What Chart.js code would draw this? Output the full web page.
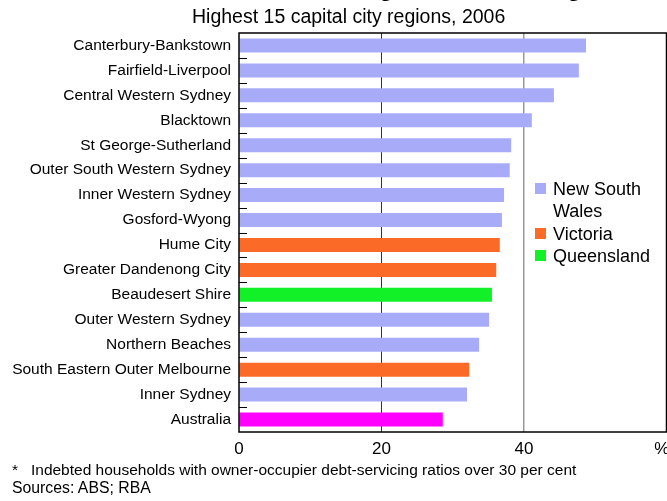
<!DOCTYPE html>
<html>
<head>
<meta charset="utf-8">
<script src="https://cdn.jsdelivr.net/npm/chart.js@4/dist/chart.umd.min.js"></script>
<style>
  html, body { margin: 0; padding: 0; background: #fff; overflow: hidden; }
  body { width: 667px; height: 501px; position: relative; font-family: "Liberation Sans", Arial, sans-serif; color: #000; }
  #wrap { position: absolute; left: 0; top: 0; width: 700px; height: 501px; }
  .txt { position: absolute; white-space: nowrap; color: #000; }
  #title { font-weight: bold; font-size: 24px; line-height: 24px; right: 76px; top: -24px; }
  #subtitle { font-size: 19.5px; line-height: 20px; left: 192px; top: 6px; }
  #foot1 { font-size: 15.5px; line-height: 18px; left: 12px; top: 461px; }
  #foot2 { font-size: 15.8px; line-height: 18px; left: 12px; top: 479px; }
  #legend { position: absolute; left: 535px; top: 178px; font-size: 18px; line-height: 22.3px; }
  .li { position: relative; padding-left: 18px; }
  .sw { position: absolute; left: 0; top: 5px; width: 11px; height: 11px; }
</style>
</head>
<body>
<div id="wrap"><canvas id="c" width="700" height="501"></canvas></div>
<div class="txt" id="title">Households with High Debt-servicing*</div>
<div class="txt" id="subtitle">Highest 15 capital city regions, 2006</div>
<div id="legend"></div>
<div class="txt" id="foot1">*&nbsp;&nbsp;&nbsp;Indebted households with owner-occupier debt-servicing ratios over 30 per cent</div>
<div class="txt" id="foot2">Sources: ABS; RBA</div>
<script>
const categories = [
  "Canterbury-Bankstown", "Fairfield-Liverpool", "Central Western Sydney", "Blacktown",
  "St George-Sutherland", "Outer South Western Sydney", "Inner Western Sydney", "Gosford-Wyong",
  "Hume City", "Greater Dandenong City", "Beaudesert Shire", "Outer Western Sydney",
  "Northern Beaches", "South Eastern Outer Melbourne", "Inner Sydney", "Australia"
];
const values = [48.7, 47.7, 44.2, 41.1, 38.2, 38.0, 37.2, 36.9, 36.6, 36.1, 35.5, 35.1, 33.7, 32.3, 32.0, 28.6];
const groups = ["NSW","NSW","NSW","NSW","NSW","NSW","NSW","NSW","VIC","VIC","QLD","NSW","NSW","VIC","NSW","AUS"];
const groupNames = { NSW: "New South<br>Wales", VIC: "Victoria", QLD: "Queensland" };
const legendGroups = ["NSW", "VIC", "QLD"];
const groupColors = { NSW: "#a8acf8", VIC: "#fc6a28", QLD: "#12f028", AUS: "#ff00ff" };
const xTicks = [0, 20, 40, 60];
const xTickLabels = ["0", "20", "40", "%  "];

const leg = document.getElementById('legend');
legendGroups.forEach(g => {
  const d = document.createElement('div');
  d.className = 'li';
  d.innerHTML = '<span class="sw" style="background:' + groupColors[g] + '"></span>' + groupNames[g];
  leg.appendChild(d);
});

const frame = {
  id: 'frame',
  afterDatasetsDraw(chart) {
    const { ctx, chartArea: a, scales: { y } } = chart;
    ctx.save();
    ctx.strokeStyle = '#000';
    ctx.lineWidth = 1;
    ctx.beginPath();
    for (let i = 1; i < categories.length; i++) {
      const py = Math.round(y.getPixelForValue(i - 0.5)) + 0.5;
      ctx.moveTo(a.left, py);
      ctx.lineTo(a.left + 8, py);
    }
    ctx.stroke();
    ctx.lineWidth = 1.5;
    ctx.strokeRect(a.left, a.top, a.right - a.left, a.bottom - a.top);
    ctx.restore();
  }
};

new Chart(document.getElementById('c'), {
  type: 'bar',
  data: {
    labels: categories,
    datasets: [{
      data: values,
      backgroundColor: groups.map(g => groupColors[g]),
      borderWidth: 0,
      barPercentage: 0.56,
      categoryPercentage: 1.0
    }]
  },
  options: {
    indexAxis: 'y',
    responsive: false,
    animation: false,
    events: [],
    layout: { padding: { left: 0, top: 33, right: 33.5, bottom: 0 } },
    plugins: { legend: { display: false }, tooltip: { enabled: false }, title: { display: false } },
    scales: {
      x: {
        type: 'linear',
        min: 0, max: 60,
        afterBuildTicks: s => { s.ticks = xTicks.map(v => ({ value: v })); },
        afterFit: s => { s.height = 69; },
        border: { display: false },
        grid: {
          drawTicks: false,
          color: c => c.tick && c.tick.value === 20 ? '#333333' : (c.tick && c.tick.value === 40 ? '#9a9a9a' : 'rgba(0,0,0,0)'),
          lineWidth: c => c.tick && c.tick.value === 40 ? 1.5 : 1
        },
        ticks: {
          padding: 7,
          color: '#000',
          font: { family: '"Liberation Sans", Arial, sans-serif', size: 17 },
          maxRotation: 0,
          autoSkip: false,
          callback: (v) => xTickLabels[xTicks.indexOf(v)]
        }
      },
      y: {
        afterFit: s => { s.width = 239; },
        border: { display: false },
        grid: { display: false, drawTicks: false },
        ticks: {
          padding: 8,
          color: '#000',
          autoSkip: false,
          font: { family: '"Liberation Sans", Arial, sans-serif', size: 15.5 }
        }
      }
    }
  },
  plugins: [frame]
});
</script>
</body>
</html>
